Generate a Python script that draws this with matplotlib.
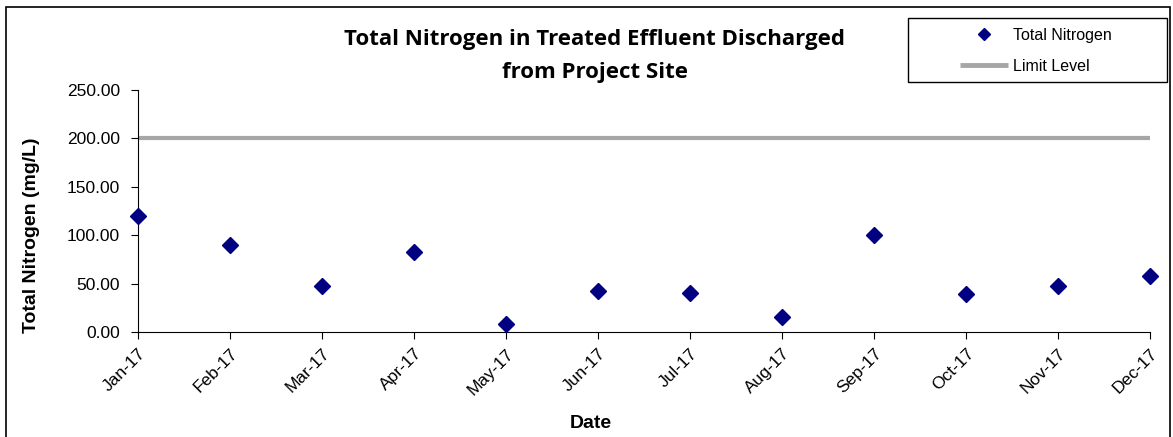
import matplotlib.pyplot as plt
from matplotlib.lines import Line2D
from matplotlib.patches import Rectangle

months = ["Jan-17", "Feb-17", "Mar-17", "Apr-17", "May-17", "Jun-17",
          "Jul-17", "Aug-17", "Sep-17", "Oct-17", "Nov-17", "Dec-17"]
nitrogen = [120, 90, 48, 83, 8, 42, 40, 16, 100, 39, 48, 58]
limit = 200
yticks = [0, 50, 100, 150, 200, 250]

plt.rcParams['font.family'] = ['Liberation Sans', 'DejaVu Sans']

W, H = 1173, 437
fig = plt.figure(figsize=(W/100, H/100), dpi=100)
ax = fig.add_axes([138/W, 105/H, 1012/W, 242/H])

x = list(range(len(months)))
ax.plot(x, [limit]*len(x), color="#a6a6a6", lw=3, solid_capstyle="butt", zorder=2)
ax.plot(x, nitrogen, linestyle="none", marker="D", ms=8.5, color="#000080",
        zorder=3, clip_on=False)

ax.set_xlim(0, len(x)-1)
ax.set_ylim(0, 250)
ax.set_yticks(yticks)
ax.set_yticklabels(["%.2f" % v for v in yticks])
ax.set_xticks(x)
ax.set_xticklabels(months, rotation=45, ha="right", rotation_mode="anchor")
ax.tick_params(labelsize=12.5, length=5, direction="out", color="black")
ax.tick_params(axis="y", pad=8)
ax.tick_params(axis="x", pad=5)
for s in ["top", "right"]:
    ax.spines[s].set_visible(False)

ax.set_ylabel("Total Nitrogen (mg/L)", fontsize=14, fontweight="bold")
ax.yaxis.set_label_coords((40-138)/1012, (332-235)/242)
ax.set_xlabel("Date", fontsize=14, fontweight="bold")
ax.xaxis.set_label_coords((591-138)/1012, (332-415)/242)

fig.text(595/W, 1-56/H, "Total Nitrogen in Treated Effluent Discharged\nfrom Project Site",
         ha="center", va="center", fontsize=16, fontweight="bold",
         family=["Open Sans", "DejaVu Sans"], linespacing=1.8)

# outer frame
fig.patches.append(Rectangle((6/W, -0.05), 1164/W, 1 - 7/H + 0.05,
                             transform=fig.transFigure, fill=False, lw=1.2, ec="black"))

# legend box
fig.patches.append(Rectangle((908/W, 1-82/H), 259/W, 64/H,
                             transform=fig.transFigure, fill=False, lw=1.0, ec="black"))
handles = [Line2D([], [], linestyle="none", marker="D", ms=6, color="#000080"),
           Line2D([], [], color="#a6a6a6", lw=3.5, solid_capstyle="butt")]
leg = fig.legend(handles, ["Total Nitrogen", "Limit Level"], loc="center left",
                 bbox_to_anchor=(960/W, 1-51/H), fontsize=11.5, frameon=False,
                 borderpad=0, borderaxespad=0, handlelength=3, labelspacing=1.0,
                 handletextpad=0.3)

fig.savefig("out.png", dpi=100)
